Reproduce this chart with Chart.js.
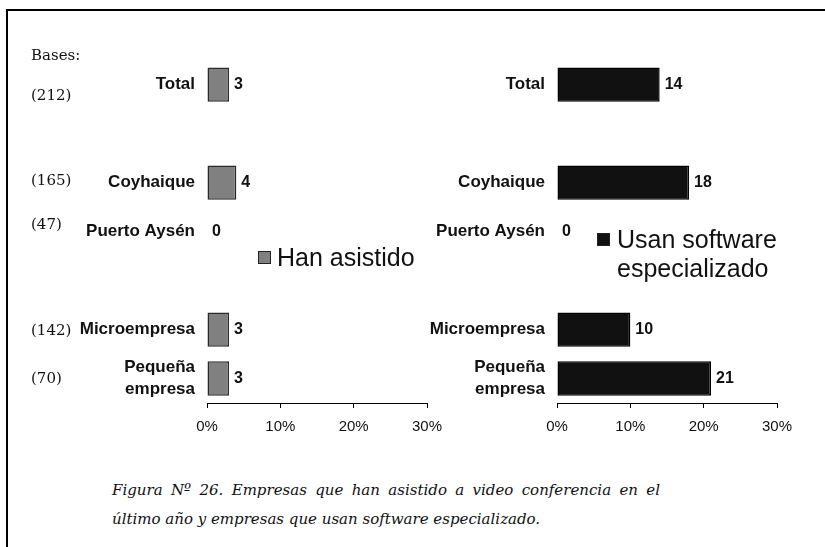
<!DOCTYPE html>
<html>
<head>
<meta charset="utf-8">
<script src="https://cdn.jsdelivr.net/npm/chart.js@4/dist/chart.umd.min.js"></script>
<style>
  html, body { margin: 0; padding: 0; background: #fff; }
  #page { position: relative; width: 825px; height: 547px; overflow: hidden; background: #fff; }
  #frame { position: absolute; left: 6px; top: 9px; right: -10px; bottom: -10px;
           border-top: 2px solid #000; border-left: 2px solid #000; }
  canvas { position: absolute; }
  .base { position: absolute; left: 31px; font: 15px "DejaVu Serif", serif; color: #111;
          line-height: 1; transform: translateY(-50%); white-space: nowrap; }
  .legend { position: absolute; font: 25px "Liberation Sans", Arial, sans-serif; color: #111;
            line-height: 29px; white-space: nowrap; }
  .swatch { position: absolute; width: 11px; height: 11px; border: 1px solid #222; }
  #caption { position: absolute; left: 112px; top: 476px; width: 548px;
             font: italic 15px "DejaVu Serif", serif; color: #111; line-height: 29px; }
  #caption .first { text-align: justify; text-align-last: justify; white-space: nowrap; }
  #caption .last { white-space: nowrap; }
</style>
</head>
<body>
<div id="page">
  <div id="frame"></div>
  <canvas id="left" width="460" height="434" style="left:0px;top:26px;width:460px;height:434px"></canvas>
  <canvas id="right" width="410" height="434" style="left:400px;top:26px;width:410px;height:434px"></canvas>
  <div id="bases"></div>
  <div class="swatch" style="left:258px;top:251px;background:#808080"></div>
  <div class="legend" style="left:277px;top:243px">Han asistido</div>
  <div class="swatch" style="left:597px;top:233px;background:#111"></div>
  <div class="legend" style="left:617px;top:225px">Usan software<br>especializado</div>
  <div id="caption">
    <div class="first">Figura Nº 26. Empresas que han asistido a video conferencia en el</div>
    <div class="last">último año y empresas que usan software especializado.</div>
  </div>
</div>
<script>
// Segment rows (blank entries leave the gaps between groups)
const categories = ["Total", "", "Coyhaique", "Puerto Aysén", "", "Microempresa", ["Pequeña", "empresa"]];
// Percent of firms that attended a video conference in the last year
const hanAsistido = [3, null, 4, 0, null, 3, 3];
// Percent of firms that use specialised software
const usanSoftware = [14, null, 18, 0, null, 10, 21];
// Sample sizes per row
const bases = ["Bases:", "(212)", "(165)", "(47)", "(142)", "(70)"];
const baseTops = [55, 95, 180, 224, 330, 378];
const xTicks = [0, 10, 20, 30];

bases.forEach((b, i) => {
  const d = document.createElement('div');
  d.className = 'base';
  d.style.top = baseTops[i] + 'px';
  d.textContent = b;
  document.getElementById('bases').appendChild(d);
});

const labelFont = { family: '"Liberation Sans", Arial, sans-serif', size: 17, weight: 'bold', lineHeight: 1.3 };

// Writes each bar's value just past its end
const valueLabels = {
  id: 'valueLabels',
  afterDatasetsDraw(chart) {
    const ctx = chart.ctx;
    const meta = chart.getDatasetMeta(0);
    const data = chart.data.datasets[0].data;
    ctx.save();
    ctx.font = 'bold 16px "Liberation Sans", Arial, sans-serif';
    ctx.fillStyle = '#111';
    ctx.textAlign = 'left';
    ctx.textBaseline = 'middle';
    meta.data.forEach((bar, i) => {
      if (data[i] === null) return;
      ctx.fillText(String(data[i]), bar.x + 5, bar.y);
    });
    ctx.restore();
  }
};

function makeChart(id, values, fill, border, axisWidth) {
  return new Chart(document.getElementById(id), {
    type: 'bar',
    data: {
      labels: categories,
      datasets: [{
        data: values,
        backgroundColor: fill,
        borderColor: border,
        borderWidth: 1.5,
        borderSkipped: false,
        barPercentage: 0.7,
        categoryPercentage: 1.0
      }]
    },
    options: {
      indexAxis: 'y',
      responsive: false,
      animation: false,
      layout: { padding: { top: 20, right: 33, bottom: 0, left: 0 } },
      plugins: { legend: { display: false }, tooltip: { enabled: false } },
      scales: {
        x: {
          min: 0, max: 30,
          afterBuildTicks(scale) { scale.ticks = xTicks.map(v => ({ value: v })); },
          afterFit(scale) { scale.height = 57; },
          grid: { drawOnChartArea: false, drawTicks: true, tickLength: 5, color: '#000', lineWidth: 1 },
          border: { display: true, color: '#000', width: 1 },
          ticks: {
            padding: 10,
            color: '#111',
            font: { family: '"Liberation Sans", Arial, sans-serif', size: 15 },
            callback: v => v + '%'
          }
        },
        y: {
          afterFit(scale) { scale.width = axisWidth; },
          grid: { display: false, drawTicks: false },
          border: { display: false },
          ticks: { padding: 12, color: '#111', font: labelFont, autoSkip: false }
        }
      }
    },
    plugins: [valueLabels]
  });
}

makeChart('left', hanAsistido, '#808080', '#2a2a2a', 207);
makeChart('right', usanSoftware, '#111111', '#000000', 157);
</script>
</body>
</html>
